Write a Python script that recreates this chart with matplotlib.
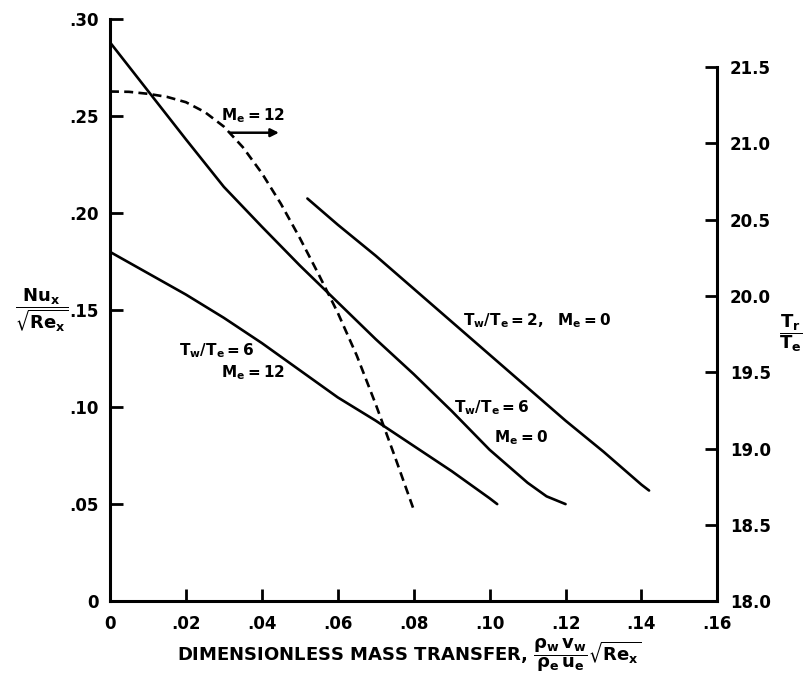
import matplotlib
matplotlib.use("Agg")
import matplotlib.pyplot as plt

plt.rcParams["font.family"] = "DejaVu Sans"
plt.rcParams["font.weight"] = "bold"
plt.rcParams["mathtext.fontset"] = "dejavusans"
plt.rcParams["mathtext.default"] = "bf"

# Nu_x / sqrt(Re_x) curves (left axis)
x_tw6_me0 = [0.0, 0.01, 0.02, 0.03, 0.04, 0.05, 0.06, 0.07, 0.08, 0.09, 0.10, 0.11, 0.115, 0.12]
y_tw6_me0 = [0.288, 0.263, 0.238, 0.2135, 0.193, 0.173, 0.154, 0.135, 0.117, 0.098, 0.078, 0.061, 0.054, 0.050]

x_tw6_me12 = [0.0, 0.01, 0.02, 0.03, 0.04, 0.05, 0.06, 0.07, 0.08, 0.09, 0.10, 0.102]
y_tw6_me12 = [0.180, 0.169, 0.158, 0.146, 0.133, 0.119, 0.105, 0.093, 0.080, 0.067, 0.053, 0.050]

x_tw2_me0 = [0.052, 0.06, 0.07, 0.08, 0.09, 0.10, 0.11, 0.12, 0.13, 0.14, 0.142]
y_tw2_me0 = [0.2075, 0.194, 0.178, 0.161, 0.144, 0.127, 0.110, 0.093, 0.077, 0.060, 0.057]

# recovery temperature Tr/Te for Me = 12 (right axis)
x_tr = [0.0, 0.005, 0.01, 0.015, 0.02, 0.025, 0.03, 0.035, 0.04, 0.045, 0.05,
        0.055, 0.06, 0.065, 0.07, 0.075, 0.08]
y_tr = [21.34, 21.338, 21.325, 21.305, 21.27, 21.205, 21.11, 20.975, 20.805, 20.605, 20.38,
        20.14, 19.89, 19.61, 19.29, 18.95, 18.60]

x_ticks = [0, 0.02, 0.04, 0.06, 0.08, 0.10, 0.12, 0.14, 0.16]
x_ticklabels = ["0", ".02", ".04", ".06", ".08", ".10", ".12", ".14", ".16"]
y_ticks = [0, 0.05, 0.10, 0.15, 0.20, 0.25, 0.30]
y_ticklabels = ["0", ".05", ".10", ".15", ".20", ".25", ".30"]
r_ticks = [18.0, 18.5, 19.0, 19.5, 20.0, 20.5, 21.0, 21.5]
r_ticklabels = ["18.0", "18.5", "19.0", "19.5", "20.0", "20.5", "21.0", "21.5"]

LW = 1.9
fig = plt.figure(figsize=(8.11, 6.8), dpi=100)
ax = fig.add_axes([0.1356, 0.116, 0.749, 0.856])
ax2 = ax.twinx()

ax.plot(x_tw6_me0, y_tw6_me0, color="black", lw=LW, solid_capstyle="round")
ax.plot(x_tw6_me12, y_tw6_me12, color="black", lw=LW, solid_capstyle="round")
ax.plot(x_tw2_me0, y_tw2_me0, color="black", lw=LW, solid_capstyle="round")
ax2.plot(x_tr, y_tr, color="black", lw=LW, dashes=(3.4, 2.0))

ax.set_xlim(0, 0.16)
ax.set_ylim(0, 0.30)
ax2.set_ylim(18.0, 21.815)

for a in (ax, ax2):
    a.spines["top"].set_visible(False)
    for s in a.spines.values():
        s.set_linewidth(2.2)
ax.spines["right"].set_visible(False)
ax2.spines["left"].set_visible(False)
ax2.spines["bottom"].set_visible(False)
ax2.spines["right"].set_bounds(18.0, 21.5)

ax.set_xticks(x_ticks)
ax.set_xticklabels(x_ticklabels)
ax.set_yticks(y_ticks)
ax.set_yticklabels(y_ticklabels)
ax2.set_yticks(r_ticks)
ax2.set_yticklabels(r_ticklabels)

ax.tick_params(axis="x", direction="in", length=9, width=2, labelsize=12, pad=10)
ax.tick_params(axis="y", direction="in", length=9, width=2, labelsize=12, pad=8)
ax2.tick_params(axis="y", direction="in", length=9, width=2, labelsize=12, pad=9)

# curve labels
FS = 11
ax.text(0.1125, 0.1446, r"$T_w/T_e=2,\ \ M_e=0$", fontsize=FS, ha="center", va="center")
ax.text(0.1007, 0.0997, r"$T_w/T_e=6$", fontsize=FS, ha="center", va="center")
ax.text(0.1083, 0.0842, r"$M_e=0$", fontsize=FS, ha="center", va="center")
ax.text(0.0282, 0.1290, r"$T_w/T_e=6$", fontsize=FS, ha="center", va="center")
ax.text(0.0377, 0.1177, r"$M_e=12$", fontsize=FS, ha="center", va="center")
ax.text(0.0377, 0.2504, r"$M_e=12$", fontsize=FS, ha="center", va="center")
ax2.annotate("", xy=(0.0445, 21.07), xytext=(0.0316, 21.07),
             arrowprops=dict(arrowstyle="-|>", color="black", lw=1.8,
                             mutation_scale=12, shrinkA=0, shrinkB=0))

# axis titles
fig.text(0.052, 0.544, r"$\dfrac{Nu_x}{\sqrt{Re_x}}$", fontsize=13, ha="center", va="center")
fig.text(0.975, 0.51, r"$\dfrac{T_r}{T_e}$", fontsize=13, ha="center", va="center")
fig.text(0.505, 0.036,
         r"DIMENSIONLESS MASS TRANSFER, $\dfrac{\rho_w\,v_w}{\rho_e\,u_e}\sqrt{Re_x}$",
         fontsize=13, ha="center", va="center")

plt.savefig("out.png", dpi=100)
plt.close()
